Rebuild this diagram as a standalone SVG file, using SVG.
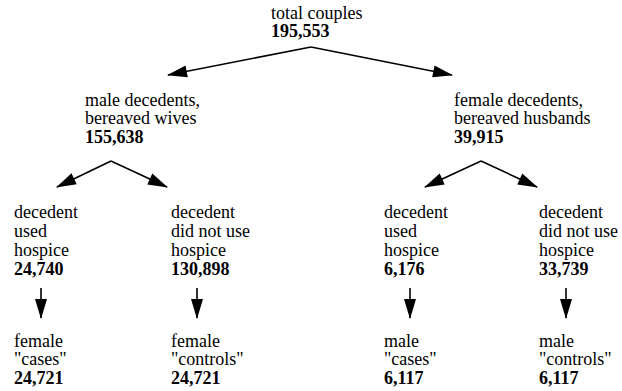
<svg xmlns="http://www.w3.org/2000/svg" width="622" height="391" viewBox="0 0 622 391">
<style>
text{font-family:'Liberation Serif','DejaVu Serif',Times,serif;font-size:18px;fill:#000}
.b{font-weight:bold}
.c{stroke:#000;stroke-width:1.6;fill:none;marker-end:url(#ah)}
</style>
<defs>
<marker id="ah" markerUnits="userSpaceOnUse" markerWidth="20" markerHeight="12" refX="19" refY="6" orient="auto" overflow="visible">
<path d="M0,0 L20,6 L0,12 z" fill="#000"/>
</marker>
</defs>
<rect width="622" height="391" fill="#fff"/>
<g id="connectors">
<line class="c" x1="311" y1="47" x2="168" y2="75"/>
<line class="c" x1="311" y1="47" x2="452" y2="75"/>
<line class="c" x1="111" y1="161" x2="57" y2="187"/>
<line class="c" x1="111" y1="161" x2="167" y2="187"/>
<line class="c" x1="481" y1="161" x2="425" y2="187"/>
<line class="c" x1="481" y1="161" x2="537" y2="187"/>
<line class="c" x1="41" y1="288" x2="41" y2="318"/>
<line class="c" x1="197" y1="288" x2="197" y2="318"/>
<line class="c" x1="410" y1="288" x2="410" y2="318"/>
<line class="c" x1="566" y1="288" x2="566" y2="318"/>
</g>
<g id="total" font-family="Liberation Serif, serif">
<text x="271" y="19">total couples</text>
<text x="271" y="37" class="b">195,553</text>
</g>
<g id="male-dec">
<text x="85" y="106">male decedents,</text>
<text x="85" y="124">bereaved wives</text>
<text x="85" y="143" class="b">155,638</text>
</g>
<g id="female-dec">
<text x="454" y="106">female decedents,</text>
<text x="454" y="124">bereaved husbands</text>
<text x="454" y="143" class="b">39,915</text>
</g>
<g id="m-used">
<text x="14" y="218">decedent</text>
<text x="14" y="237">used</text>
<text x="14" y="256">hospice</text>
<text x="14" y="275" class="b">24,740</text>
</g>
<g id="m-notused">
<text x="171" y="218">decedent</text>
<text x="171" y="237">did not use</text>
<text x="171" y="256">hospice</text>
<text x="171" y="275" class="b">130,898</text>
</g>
<g id="f-used">
<text x="384" y="218">decedent</text>
<text x="384" y="237">used</text>
<text x="384" y="256">hospice</text>
<text x="384" y="275" class="b">6,176</text>
</g>
<g id="f-notused">
<text x="539" y="218">decedent</text>
<text x="539" y="237">did not use</text>
<text x="539" y="256">hospice</text>
<text x="539" y="275" class="b">33,739</text>
</g>
<g id="f-cases">
<text x="14" y="347">female</text>
<text x="14" y="365">"cases"</text>
<text x="14" y="384" class="b">24,721</text>
</g>
<g id="f-controls">
<text x="171" y="347">female</text>
<text x="171" y="365">"controls"</text>
<text x="171" y="384" class="b">24,721</text>
</g>
<g id="m-cases">
<text x="384" y="347">male</text>
<text x="384" y="365">"cases"</text>
<text x="384" y="384" class="b">6,117</text>
</g>
<g id="m-controls">
<text x="539" y="347">male</text>
<text x="539" y="365">"controls"</text>
<text x="539" y="384" class="b">6,117</text>
</g>
</svg>
